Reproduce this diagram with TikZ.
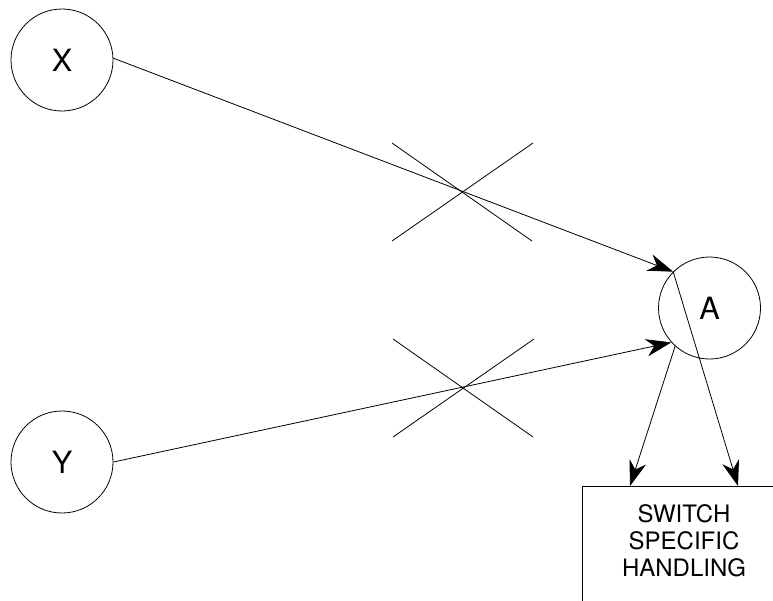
\documentclass[tikz,border=0pt]{standalone}
\usepackage{fontspec}
\setmainfont{TeX Gyre Heros}
\usepackage{tikz}
\usetikzlibrary{arrows.meta, calc}
\tikzset{
	state/.style={circle, draw=black, line width=0.6pt, minimum size=76.5pt, inner sep=0pt, font=\fontsize{23}{26}\selectfont},
	handler/.style={rectangle, draw=black, line width=0.6pt, minimum width=151.5pt, minimum height=110pt, anchor=north west, inner sep=0pt},
	flowarrow/.style={-{Stealth[length=19pt, width=13pt, inset=6pt]}, line width=0.6pt},
	cutline/.style={line width=0.6pt},
}

\begin{document}
\begin{tikzpicture}[x=0.75pt, y=-0.75pt]
	\useasboundingbox (0,0) rectangle (773,600);
	\clip (0,0) rectangle (773,600);
	% states
	\node[state] (X) at (62,60) {X};
	\node[state] (Y) at (62,462) {Y};
	\node[state] (A) at (709.5,308) {A};
	% handling box (runs off the page)
	\node[handler] (sw) at (582,486) {};
	\node[font=\fontsize{18}{20.2}\selectfont, align=center] (swtext) at (684,541) {SWITCH\\SPECIFIC\\HANDLING};
	\coordinate (inL) at (630,486);
	\coordinate (inR) at (738,486);
	% transitions
	\draw[flowarrow] (X.2) -- (A.135);
	\draw[flowarrow] (Y.0) -- (A.222);
	\draw[flowarrow] (A.228) -- (inL);
	\draw[flowarrow] (A.135) -- (inR);
	% crossed out
	\coordinate (c1) at (461,192);
	\coordinate (c2) at (462,388);
	\foreach \c in {c1,c2} {
		\draw[cutline] ($(\c)+(-69,-49)$) -- ($(\c)+(71,49)$);
		\draw[cutline] ($(\c)+(-69,49)$) -- ($(\c)+(72,-49)$);
	}
\end{tikzpicture}
\end{document}
